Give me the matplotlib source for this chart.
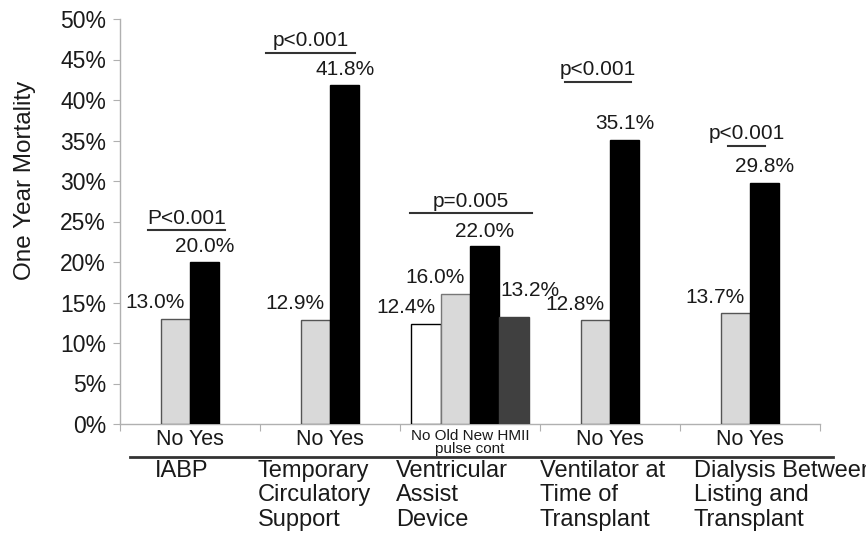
import matplotlib
matplotlib.use("Agg")
import matplotlib.pyplot as plt

# ---------------- data ----------------
groups = ["IABP",
          "Temporary\nCirculatory\nSupport",
          "Ventricular\nAssist\nDevice",
          "Ventilator at\nTime of\nTransplant",
          "Dialysis Between\nListing and\nTransplant"]
sub_labels = ["No Yes", "No Yes", "No Old New HMII\npulse cont", "No Yes", "No Yes"]
iabp = [13.0, 20.0]
temp_support = [12.9, 41.8]
vad = [12.4, 16.0, 22.0, 13.2]
ventilator = [12.8, 35.1]
dialysis = [13.7, 29.8]
values = [iabp, temp_support, vad, ventilator, dialysis]
p_values = ["P<0.001", "p<0.001", "p=0.005", "p<0.001", "p<0.001"]
y_ticks = [0, 5, 10, 15, 20, 25, 30, 35, 40, 45, 50]

# ---------------- style / layout ----------------
two_colors = ["#d9d9d9", "#000000"]
vad_colors = ["#ffffff", "#d9d9d9", "#000000", "#404040"]
two_edges = ["#555555", "#000000"]
vad_edges = ["#000000", "#777777", "#000000", "#404040"]
two_label_dx = [-20, 0]          # label offsets in px
vad_label_dx = [-20, -20, 0, 16]
two_label_dy = [16, 16]
vad_label_dy = [16, 17, 14, 27]
pval_line_y = [23.9, 45.8, 26.0, 42.2, 34.3]          # bracket heights (%)
pval_line_x = [(0.20, 0.75), (1.04, 1.68), (2.07, 2.94), (3.18, 3.65), (4.34, 4.61)]
cat_label_x = [0.25, 0.985, 1.97, 3.0, 4.1]
bar_w = 0.21

DPI = 100
fig = plt.figure(figsize=(8.66, 5.36), dpi=DPI)
ax = fig.add_axes([120/866, 112/536, 700/866, 405/536])

font = ["Liberation Sans", "DejaVu Sans"]
txt_col = "#1a1a1a"

for i, vals in enumerate(values):
    n = len(vals)
    if n == 4:
        cols, edges, ldx, ldy = vad_colors, vad_edges, vad_label_dx, vad_label_dy
    else:
        cols, edges, ldx, ldy = two_colors, two_edges, two_label_dx, two_label_dy
    xs = [i + 0.5 + (j - (n - 1) / 2) * bar_w for j in range(n)]
    ax.bar(xs, vals, width=bar_w, color=cols, edgecolor=edges, linewidth=1.0, zorder=3)
    for x, v, dx, dy in zip(xs, vals, ldx, ldy):
        ax.annotate(f"{v:.1f}%", (x, v), xytext=(dx * 0.72, dy * 0.72),
                    textcoords="offset points", ha="center", va="center",
                    fontsize=15, family=font, color=txt_col)
    # p-value bracket
    x0, x1 = pval_line_x[i]
    ax.plot([x0, x1], [pval_line_y[i], pval_line_y[i]], color="#333333", lw=1.5,
            clip_on=False, zorder=4)
    ax.annotate(p_values[i], ((x0 + x1) / 2, pval_line_y[i]), xytext=(0, 2),
                textcoords="offset points", ha="center", va="bottom",
                fontsize=15, family=font, color=txt_col)
    # sub labels
    xt = ax.get_xaxis_transform()
    if n == 4:
        ax.text(i + 0.5, -0.012, sub_labels[i], transform=xt, ha="center", va="top",
                fontsize=11, family=font, color=txt_col, linespacing=0.95)
    else:
        ax.text(i + 0.5, -0.012, sub_labels[i], transform=xt, ha="center", va="top",
                fontsize=15.5, family=font, color=txt_col)
    ax.text(cat_label_x[i], -0.09, groups[i], transform=xt, ha="left", va="top",
            fontsize=17, family=font, color=txt_col, linespacing=1.12)

# separator line under the sub labels
ax.plot([0.07, 5.09], [-0.0815, -0.0815], transform=ax.get_xaxis_transform(),
        color="#333333", lw=2, clip_on=False)

ax.set_xlim(0, 5)
ax.set_ylim(0, 50)
ax.set_yticks(y_ticks)
ax.set_yticklabels([f"{t}%" for t in y_ticks], fontsize=16.5, family=font, color=txt_col)
ax.set_xticks(range(6))
ax.set_xticklabels([])
ax.tick_params(axis="y", length=5, color="#b0b0b0", pad=5)
ax.tick_params(axis="x", length=5, color="#b0b0b0", direction="out")
for s in ["top", "right"]:
    ax.spines[s].set_visible(False)
for s in ["left", "bottom"]:
    ax.spines[s].set_color("#b0b0b0")
    ax.spines[s].set_linewidth(1.0)

fig.text(25/866, 1 - 180/536, "One Year Mortality", rotation=90, ha="center",
         va="center", fontsize=17.5, family=font, color=txt_col)

fig.savefig("out.png", dpi=DPI)
